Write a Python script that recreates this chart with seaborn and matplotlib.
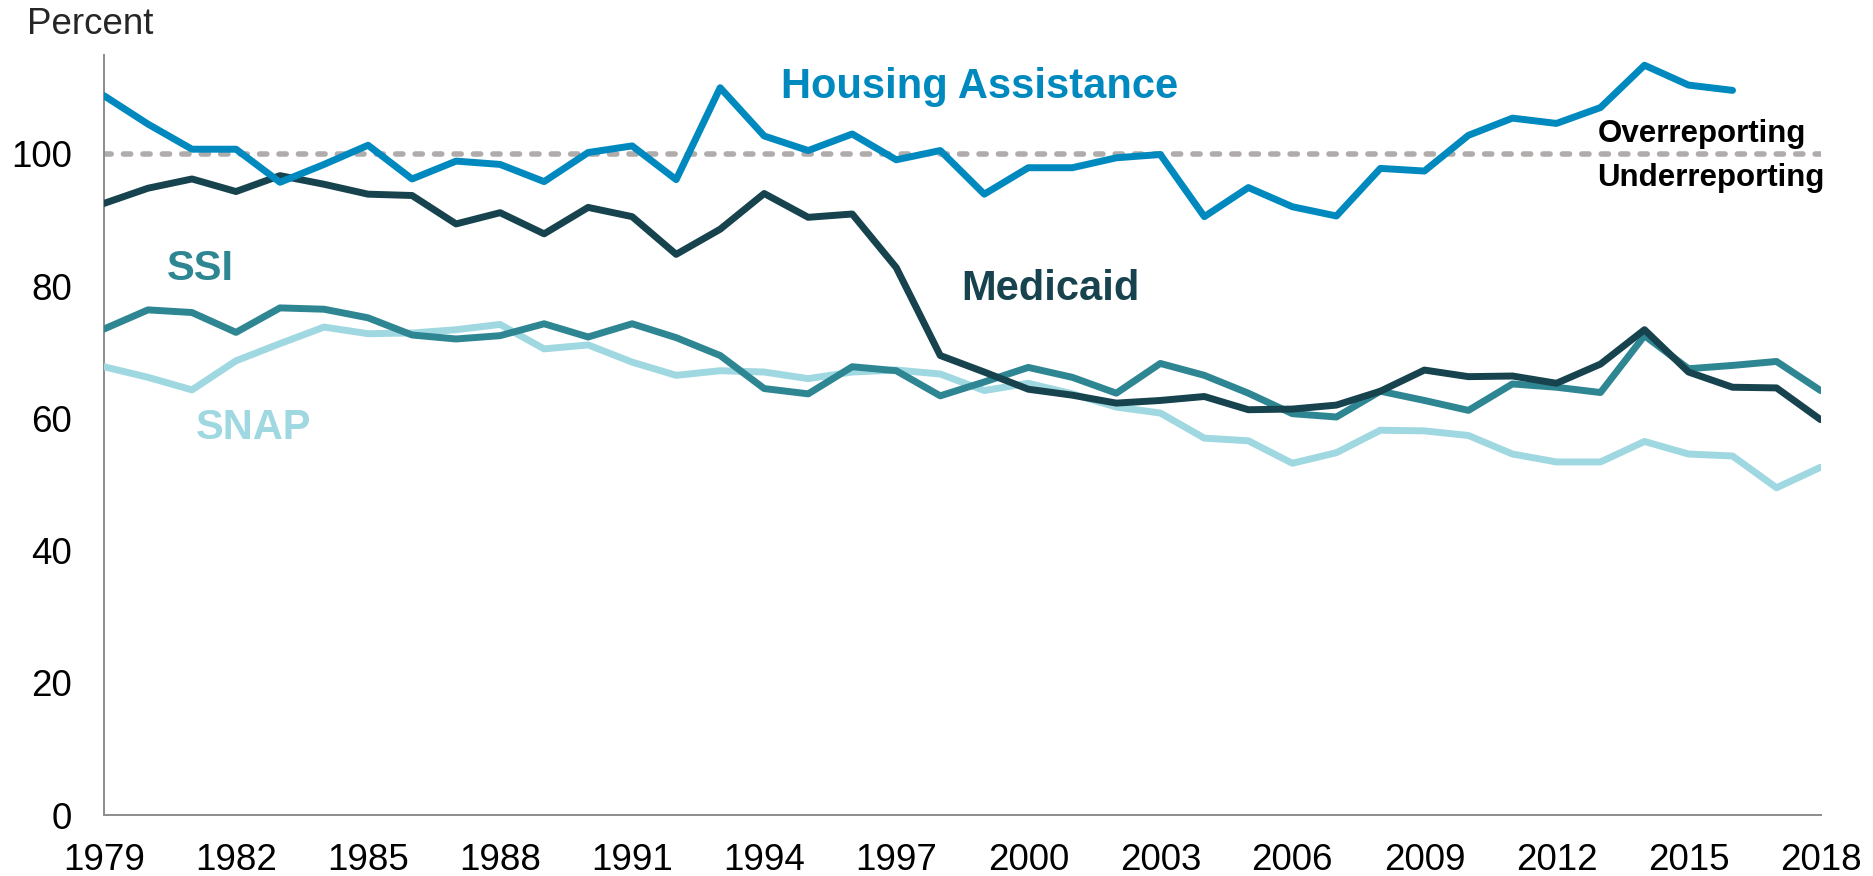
import numpy as np
import pandas as pd
import matplotlib.pyplot as plt
import seaborn as sns

years = list(range(1979, 2019))

housing = [108.8, 104.5, 100.7, 100.7, 95.7, 98.4, 101.3, 96.2, 98.9, 98.4,
           95.8, 100.2, 101.2, 96.1, 110.0, 102.7, 100.5, 103.0, 99.1, 100.5,
           93.9, 97.9, 97.9, 99.4, 99.9, 90.5, 94.9, 92.0, 90.6, 97.8,
           97.4, 102.8, 105.4, 104.6, 107.0, 113.4, 110.4, 109.6, np.nan, np.nan]

medicaid = [92.5, 94.8, 96.2, 94.3, 96.7, 95.4, 93.9, 93.7, 89.4, 91.1,
            87.9, 91.9, 90.5, 84.8, 88.6, 94.0, 90.4, 90.9, 82.8, 69.5,
            67.0, 64.4, 63.5, 62.3, 62.7, 63.3, 61.3, 61.4, 62.0, 64.1,
            67.3, 66.3, 66.4, 65.3, 68.2, 73.4, 67.0, 64.7, 64.6, 59.8]

ssi = [73.5, 76.4, 76.0, 73.0, 76.7, 76.5, 75.2, 72.6, 72.0, 72.5,
       74.3, 72.3, 74.3, 72.2, 69.5, 64.5, 63.7, 67.8, 67.2, 63.4,
       65.5, 67.7, 66.2, 63.8, 68.3, 66.5, 63.8, 60.7, 60.2, 64.1,
       62.7, 61.2, 65.2, 64.7, 63.9, 72.5, 67.5, 68.0, 68.6, 64.2]

snap = [67.8, 66.2, 64.3, 68.7, 71.3, 73.8, 72.8, 72.9, 73.4, 74.2,
        70.5, 71.1, 68.5, 66.5, 67.2, 67.0, 66.0, 67.0, 67.3, 66.7,
        64.2, 65.3, 63.7, 61.7, 60.8, 57.0, 56.6, 53.2, 54.8, 58.2,
        58.1, 57.4, 54.6, 53.4, 53.4, 56.5, 54.6, 54.3, 49.5, 52.6]

series = {
    'Housing Assistance': housing,
    'Medicaid': medicaid,
    'SSI': ssi,
    'SNAP': snap,
}
colors = {
    'Housing Assistance': '#0089BF',
    'Medicaid': '#17434E',
    'SSI': '#2E8693',
    'SNAP': '#9FD8E1',
}

df = pd.DataFrame(series, index=years)
df.index.name = 'Year'

sns.set_style('white')
plt.rcParams['font.family'] = ['Liberation Sans', 'DejaVu Sans']

fig = plt.figure(figsize=(18.73, 8.76), dpi=100)
ax = fig.add_axes([0.0555, 0.0696, 0.9165, 0.868])

# reporting threshold
ax.axhline(100, color='#B0ACAC', linewidth=4.0, linestyle=(0, (1.3, 2.2)),
           dash_capstyle='round', zorder=1)

# draw in order so that dark lines sit on top like the original
for name in ['SNAP', 'SSI', 'Medicaid', 'Housing Assistance']:
    sns.lineplot(x=df.index, y=df[name], ax=ax, color=colors[name],
                 linewidth=5.0, solid_capstyle='round', zorder=3)

ax.set_xlim(1979, 2018)
ax.set_ylim(0, 115)
ax.set_xticks(list(range(1979, 2019, 3)))
ax.set_yticks(list(range(0, 101, 20)))
ax.set_xlabel('')
ax.set_ylabel('')

for side in ['top', 'right']:
    ax.spines[side].set_visible(False)
for side in ['left', 'bottom']:
    ax.spines[side].set_color('#8C8C8C')
    ax.spines[side].set_linewidth(1.4)

ax.tick_params(axis='both', direction='in', length=7, width=1.3,
               color='#8C8C8C', labelsize=26.5, labelcolor='black')
ax.tick_params(axis='x', pad=20)
ax.tick_params(axis='y', pad=23)

# series labels
ax.text(1998.9, 110.1, 'Housing Assistance', color=colors['Housing Assistance'],
        fontsize=30, fontweight='bold', ha='center', va='center')
ax.text(2000.5, 79.5, 'Medicaid', color=colors['Medicaid'],
        fontsize=30, fontweight='bold', ha='center', va='center')
ax.text(1981.2, 82.6, 'SSI', color=colors['SSI'],
        fontsize=30, fontweight='bold', ha='center', va='center')
ax.text(1982.4, 58.5, 'SNAP', color=colors['SNAP'],
        fontsize=30, fontweight='bold', ha='center', va='center')
ax.text(2015.3, 103.0, 'Overreporting', color='black',
        fontsize=22.5, fontweight='bold', ha='center', va='center')
ax.text(2015.5, 96.3, 'Underreporting', color='black',
        fontsize=22.5, fontweight='bold', ha='center', va='center')

fig.text(0.0144, 0.972, 'Percent', fontsize=26.5, ha='left', va='center')

fig.savefig('out.png', dpi=100)
